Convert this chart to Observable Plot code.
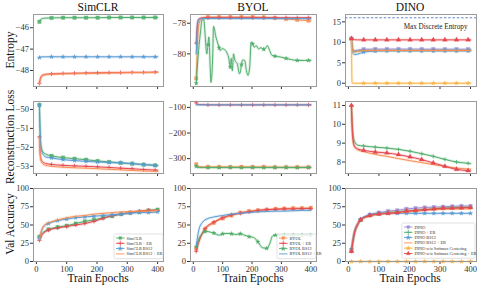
<!DOCTYPE html>
<html><head><meta charset="utf-8">
<script src="https://cdn.jsdelivr.net/npm/d3@7"></script>
<script src="https://cdn.jsdelivr.net/npm/@observablehq/plot@0.6"></script>
<style>
body{margin:0;background:#fff;}
#c{position:relative;width:479px;height:287px;font-family:"Liberation Serif",serif;overflow:hidden;background:#fff;}
.lab{position:absolute;font-size:11.5px;color:#111;white-space:nowrap;transform:translate(-50%,-50%);}
.rot{transform:translate(-50%,-50%) rotate(-90deg);}
.p{position:absolute;}
</style></head><body><div id="c"></div>
<script>
// ---------- data ----------
const topEpochs = [10, 12, 15, 20, 30, 50, 88, 126, 164, 202, 240, 278, 316, 354, 392, 400];
const topMarkEpochs = [10, 50, 88, 126, 164, 202, 240, 278, 316, 354, 392];
const accEpochs = [10, 20, 30, 40, 70, 100, 130, 160, 190, 220, 250, 280, 310, 340, 370, 400];
const accMarkEpochs = [10, 40, 70, 100, 130, 160, 190, 220, 250, 280, 310, 340, 370, 400];
const xTicks = [0, 100, 200, 300, 400];

const simclrNames = ["SimCLR", "SimCLR + ER", "SimCLR BS12", "SimCLR BS12 + ER"];
const byolNames = ["BYOL", "BYOL + ER", "BYOL BS12", "BYOL BS12 + ER"];
const dinoNames = ["DINO", "DINO + ER", "DINO BS12", "DINO BS12 + ER", "DINO w/o Softmax Centering", "DINO w/o Softmax Centering + ER"];

// Entropy
const simclrEnt = [
  [-45.72, -45.66, -45.6, -45.57, -45.55, -45.54, -45.53, -45.53, -45.53, -45.53, -45.52, -45.52, -45.52, -45.52, -45.52, -45.52],
  [-48.6, -48.45, -48.3, -48.22, -48.18, -48.16, -48.14, -48.13, -48.12, -48.11, -48.1, -48.1, -48.09, -48.09, -48.08, -48.08],
  [-47.4, -47.38, -47.37, -47.36, -47.36, -47.36, -47.36, -47.36, -47.36, -47.36, -47.36, -47.36, -47.36, -47.36, -47.36, -47.36],
  [-48.65, -48.5, -48.35, -48.25, -48.2, -48.18, -48.16, -48.15, -48.14, -48.13, -48.12, -48.11, -48.1, -48.1, -48.09, -48.09]
];
const byolEnt = [
  [-81.6, -80.5, -79.0, -78.0, -77.65, -77.6, -77.6, -77.6, -77.6, -77.6, -77.62, -77.66, -77.72, -77.78, -77.83, -77.84],
  [-79.3, -78.5, -77.9, -77.7, -77.65, -77.64, -77.64, -77.64, -77.64, -77.64, -77.64, -77.64, -77.64, -77.64, -77.64, -77.64],
  null,
  [-80.0, -79.0, -78.0, -77.75, -77.7, -77.7, -77.7, -77.7, -77.7, -77.7, -77.7, -77.7, -77.7, -77.7, -77.7, -77.7]
];
const byolBs12EntEpochs = [10, 18, 25, 30, 36, 40, 46, 50, 53, 58, 60, 66, 69, 77, 84, 88, 91, 99, 110, 115, 120, 126, 129, 133, 137, 142, 150, 157, 161, 164, 168, 175, 181, 186, 192, 197, 202, 208, 214, 222, 230, 240, 247, 252, 260, 268, 278, 296, 316, 334, 354, 378, 392, 400];
const byolBs12Ent = [-81.92, -79.78, -78.48, -77.78, -77.78, -78.69, -80.0, -79.4, -78.9, -81.1, -81.86, -80.2, -78.2, -78.9, -79.35, -79.6, -79.78, -79.66, -79.78, -79.95, -80.2, -80.87, -80.3, -81.1, -80.0, -80.43, -80.65, -81.3, -81.1, -80.7, -80.4, -80.43, -81.1, -81.4, -80.87, -79.24, -79.35, -79.57, -79.46, -79.67, -79.6, -79.7, -79.6, -79.46, -79.78, -80.1, -80.15, -80.2, -80.3, -80.37, -80.43, -80.43, -80.43, -80.43];
const dinoEnt = [
  [10.9, 9.5, 8.3, 8.0, 8.1, 8.3, 8.35, 8.35, 8.35, 8.35, 8.33, 8.33, 8.32, 8.32, 8.32, 8.32],
  [10.9, 9.2, 8.0, 7.7, 7.8, 8.0, 8.0, 8.0, 8.0, 8.0, 8.0, 8.0, 8.0, 8.0, 8.0, 8.0],
  [10.9, 8.5, 7.3, 7.0, 7.1, 7.6, 7.85, 7.9, 7.9, 7.9, 7.9, 7.9, 7.9, 7.9, 7.9, 7.9],
  [10.9, 9.0, 7.8, 7.6, 7.8, 7.95, 8.0, 8.0, 8.0, 8.0, 8.0, 8.0, 8.0, 8.0, 8.0, 8.0],
  [10.9, 0.1, 0, 0, 0, 0, 0, 0, 0, 0, 0, 0, 0, 0, 0, 0],
  [10.9, 10.8, 10.7, 10.65, 10.6, 10.6, 10.6, 10.6, 10.6, 10.6, 10.6, 10.6, 10.6, 10.6, 10.6, 10.6]
];
const maxDiscreteEntropy = 16;

// Reconstruction loss
const simclrRec = [
  [-49.76, -51.0, -51.9, -52.2, -52.35, -52.45, -52.54, -52.6, -52.65, -52.72, -52.77, -52.82, -52.86, -52.91, -52.95, -52.96],
  [-51.45, -52.2, -52.6, -52.75, -52.85, -52.9, -52.95, -52.98, -53.0, -53.03, -53.06, -53.1, -53.13, -53.17, -53.2, -53.21],
  [-49.76, -51.1, -52.0, -52.3, -52.5, -52.56, -52.65, -52.7, -52.74, -52.77, -52.8, -52.82, -52.86, -52.91, -52.95, -52.96],
  [-51.5, -52.3, -52.7, -52.85, -52.95, -53.0, -53.05, -53.08, -53.1, -53.13, -53.16, -53.19, -53.22, -53.25, -53.27, -53.28]
];
const byolRec = [
  [-322, -328, -330, -331, -332, -332, -332, -332, -332, -332, -332, -333, -333, -333, -333, -333],
  [-82, -86, -88, -89, -89, -90, -90, -90, -90, -90, -90, -90, -90, -90, -90, -90],
  [-330, -333, -334, -335, -335, -335, -335, -335, -335, -335, -335, -335, -335, -335, -335, -335],
  [-90, -90, -90, -90, -90, -90, -90, -90, -90, -90, -90, -90, -90, -90, -90, -90]
];
const dinoRec = [
  null,
  [11.0, 10.2, 9.5, 9.1, 8.9, 8.85, 8.79, 8.74, 8.67, 8.57, 8.44, 8.3, 8.14, 8.0, 7.93, 7.91],
  null,
  [11.0, 9.9, 9.1, 8.8, 8.65, 8.55, 8.4, 8.3, 8.18, 8.07, 7.97, 7.86, 7.77, 7.68, 7.63, 7.62],
  null,
  [11.0, 10.0, 9.2, 8.85, 8.7, 8.62, 8.53, 8.48, 8.39, 8.27, 8.13, 7.95, 7.77, 7.61, 7.54, 7.53]
];

// Val accuracy
const simclrAcc = [
  [34, 39, 42, 44, 47, 49, 52, 55, 57, 60, 62, 65, 67, 68, 70, 71],
  [29, 37, 41, 43, 46, 48, 50, 52, 55, 59, 63, 65, 67, 69, 70, 70],
  [32, 45, 50, 52, 56, 58, 60, 61, 62, 63, 64, 65, 66, 67, 67, 68],
  [30, 46, 51, 53, 57, 60, 62, 63, 65, 66, 67, 68, 68.5, 69, 69, 70]
];
const byolAcc = [
  [18, 30, 38, 44, 53, 59, 63, 67, 69, 70, 71, 72, 72.5, 73, 73, 73.5],
  [14, 28, 38, 45, 54, 60, 64, 66, 68, 70, 71, 71.5, 72, 72, 72.5, 72.5],
  null,
  [22, 45, 53, 57, 61, 63, 65, 66, 67, 68, 68.5, 69, 69, 69.5, 70, 70]
];
const byolBs12AccEpochs = [10, 20, 30, 40, 50, 60, 70, 80, 90, 100, 115, 130, 145, 160, 175, 190, 205, 220, 235, 250, 260, 270, 280, 310, 340, 370, 400];
const byolBs12Acc = [20, 32, 38, 41, 41, 40, 39, 37, 36, 38, 38.5, 38, 37, 38, 36, 34, 33, 27, 19, 18, 24, 35, 36, 36, 36, 36, 36];
const dinoAcc = [
  [15, 40, 51, 57, 64, 67, 69, 70, 72, 73, 74, 74.5, 75, 75.5, 76, 76],
  [14, 39, 50, 57, 63, 65, 67, 68, 69, 70, 71, 72, 73, 73.5, 74, 74],
  [17, 42, 52, 58, 64, 66, 66, 66, 66, 66, 66, 66, 66, 66, 66, 66],
  [15, 40, 51, 57, 62, 65, 66, 67, 68, 69, 70, 71, 71.5, 72, 72, 72],
  [0, 0, 0, 0, 0, 0, 0, 0, 0, 0, 0, 0, 0, 0, 0, 0],
  [14, 39, 50, 57, 63, 65, 66, 67, 69, 70, 71, 72, 73, 73, 73.5, 74]
];

// ---------- styles ----------
const COL = {green: "#4fae6b", red: "#e5484f", blue: "#5a9bd4", orange: "#f98f55", purple: "#9c8fd7", yellow: "#fbb23f"};
const simclrStyle = [[COL.green, "square"], [COL.red, "plus"], [COL.blue, "star"], [COL.orange, null]];
const byolStyle = [[COL.orange, "square"], [COL.red, "plus"], [COL.green, "star"], [COL.blue, null]];
const dinoStyle = [[COL.purple, "square"], [COL.green, "plus"], [COL.blue, "star"], [COL.orange, null], [COL.yellow, "star"], [COL.red, "triangle"]];

const colX = [[33, 163], [190, 316], [345, 476]];
const rowY = [[14, 86], [101, 173], [188, 261]];
const ML = 32, MR = 4, MT = 4, MB = 16;
const root = document.getElementById("c");
const fmtTick = d => String(d).replace("-", "\u2212");

function buildSeries(names, styles, values, epochs, markEpochs, special) {
  const out = [];
  names.forEach((n, i) => {
    let xs = epochs, ys = values[i];
    if (special && special[i]) { xs = special[i][0]; ys = special[i][1]; }
    if (!ys) return;
    out.push({name: n, color: styles[i][0], symbol: styles[i][1], data: xs.map((e, j) => ({e, v: ys[j]})), marks: markEpochs});
  });
  return out;
}

const symR = {square: 2.0, plus: 1.5, star: 1.4, triangle: 1.8};

function panel(ci, ri, cfg) {
  const [x0, x1] = colX[ci], [y0, y1] = rowY[ri];
  const W = x1 - x0 + ML + MR, H = y1 - y0 + MT + MB;
  const marks = [];
  if (cfg.pre) marks.push(...cfg.pre);
  for (const s of cfg.series) {
    marks.push(Plot.lineY(s.data, {x: "e", y: "v", stroke: s.color, strokeWidth: 2.8, strokeOpacity: 0.2, curve: "monotone-x"}));
    marks.push(Plot.lineY(s.data, {x: "e", y: "v", stroke: s.color, strokeWidth: 1, curve: "monotone-x"}));
    if (s.symbol) {
      marks.push(Plot.dot(s.data.filter(d => s.marks.includes(d.e)), {x: "e", y: "v", symbol: s.symbol, r: symR[s.symbol], fill: s.color, stroke: s.color, strokeWidth: s.symbol === "plus" ? 0.8 : 0.3, fillOpacity: s.symbol === "square" ? 0.85 : 1}));
    }
  }
  marks.push(Plot.frame({stroke: "#9a9a9a", strokeWidth: 1}));
  const svg = Plot.plot({
    width: W, height: H,
    marginLeft: ML, marginRight: MR, marginTop: MT, marginBottom: MB,
    x: {domain: [-9.5, 419.5], ticks: xTicks, tickSize: 3, tickPadding: 1, tickFormat: ri === 2 ? fmtTick : (() => ""), label: null},
    y: {domain: cfg.domain, ticks: cfg.ticks, tickSize: 3, tickPadding: 1.5, tickFormat: fmtTick, label: null},
    style: {fontFamily: "'Liberation Serif', serif", fontSize: "8.5px", background: "transparent", color: "#333", overflow: "visible"},
    marks
  });
  svg.classList.add("p");
  svg.style.left = (x0 - ML) + "px";
  svg.style.top = (y0 - MT) + "px";
  root.appendChild(svg);
  if (cfg.legend) addLegend(svg, x0 - ML, y0 - MT, cfg.series, cfg.legend);
  return svg;
}

// legend drawn at 2x then scaled by 0.5 so tiny text is not clamped
function addLegend(svg, ox, oy, series, L) {
  const g = d3.select(svg).append("g").attr("transform", `translate(${L.x - ox},${L.y - oy}) scale(0.5)`).attr("text-anchor", "start");
  const step = L.step * 2;
  const h = 7 + series.length * step;
  g.append("rect").attr("width", L.w * 2).attr("height", h).attr("rx", 3).attr("fill", "#fff").attr("fill-opacity", 0.85).attr("stroke", "#cfcfcf").attr("stroke-width", 1.2);
  const symMap = {square: d3.symbolSquare, plus: d3.symbolPlus || d3.symbolCross, star: d3.symbolStar, triangle: d3.symbolTriangle};
  series.forEach((s, i) => {
    const yy = 8 + i * step;
    g.append("line").attr("x1", 4).attr("x2", 21).attr("y1", yy).attr("y2", yy).attr("stroke", s.color).attr("stroke-width", 1.8);
    if (s.symbol) {
      const isPlus = s.symbol === "plus";
      g.append("path").attr("d", d3.symbol(symMap[s.symbol], isPlus ? 40 : 30)()).attr("transform", `translate(12.5,${yy})`)
        .attr("fill", isPlus ? "none" : s.color).attr("stroke", s.color).attr("stroke-width", isPlus ? 1.6 : 0.5);
    }
    g.append("text").attr("x", 25).attr("y", yy).attr("dy", "0.35em").attr("text-anchor", "start").style("font-size", (L.fs * 2) + "px").attr("fill", "#333").style("font-family", "'Liberation Serif', serif").text(s.name);
  });
}

function label(text, x, y, rot) {
  const d = document.createElement("div");
  d.className = "lab" + (rot ? " rot" : "");
  d.style.left = x + "px"; d.style.top = y + "px";
  d.textContent = text;
  root.appendChild(d);
}

// ---------- panels ----------
// Row 1: entropy
panel(0, 0, {domain: [-48.75, -45.38], ticks: [-46, -47, -48], series: buildSeries(simclrNames, simclrStyle, simclrEnt, topEpochs, topMarkEpochs)});
panel(1, 0, {domain: [-82.13, -77.43], ticks: [-78, -80], series: buildSeries(byolNames, byolStyle, byolEnt, topEpochs, topMarkEpochs, {2: [byolBs12EntEpochs, byolBs12Ent]})});
panel(2, 0, {domain: [-0.8, 16.8], ticks: [0, 5, 10, 15],
  pre: [Plot.ruleY([maxDiscreteEntropy], {stroke: "#4c78b5", strokeWidth: 0.9, strokeDasharray: "2.5,1.8"}),
        Plot.text(["Max Discrete Entropy"], {frameAnchor: "top-right", dx: -9, dy: 9, textAnchor: "end", fontSize: 7.2, fill: "#222"})],
  series: buildSeries(dinoNames, dinoStyle, dinoEnt, topEpochs, topMarkEpochs)});
// Row 2: reconstruction loss
panel(0, 1, {domain: [-53.38, -49.58], ticks: [-50, -51, -52, -53], series: buildSeries(simclrNames, simclrStyle, simclrRec, topEpochs, topMarkEpochs)});
panel(1, 1, {domain: [-358, -77], ticks: [-100, -200, -300], series: buildSeries(byolNames, byolStyle, byolRec, topEpochs, topMarkEpochs)});
panel(2, 1, {domain: [7.39, 11.21], ticks: [8, 9, 10, 11], series: buildSeries(dinoNames, dinoStyle, dinoRec, topEpochs, topMarkEpochs)});
// Row 3: val accuracy
panel(0, 2, {domain: [0, 100], ticks: [0, 25, 50, 75, 100], series: buildSeries(simclrNames, simclrStyle, simclrAcc, accEpochs, accMarkEpochs),
  legend: {x: 114, y: 234, w: 49, step: 5.3, fs: 4.3}});
panel(1, 2, {domain: [0, 100], ticks: [0, 25, 50, 75, 100], series: buildSeries(byolNames, byolStyle, byolAcc, accEpochs, accMarkEpochs, {2: [byolBs12AccEpochs, byolBs12Acc]}),
  legend: {x: 277, y: 234, w: 39, step: 5.3, fs: 4.3}});
panel(2, 2, {domain: [0, 100], ticks: [0, 25, 50, 75, 100], series: buildSeries(dinoNames, dinoStyle, dinoAcc, accEpochs, accMarkEpochs),
  legend: {x: 402, y: 223, w: 73, step: 5.3, fs: 4.3}});

// ---------- text ----------
label("SimCLR", 98, 7);
label("BYOL", 253, 7);
label("DINO", 410, 7);
label("Entropy", 10, 50, true);
label("Reconstruction Loss", 10, 137, true);
label("Val Accuracy", 10, 224, true);
label("Train Epochs", 98, 278);
label("Train Epochs", 253, 278);
label("Train Epochs", 410, 278);
</script></body></html>
